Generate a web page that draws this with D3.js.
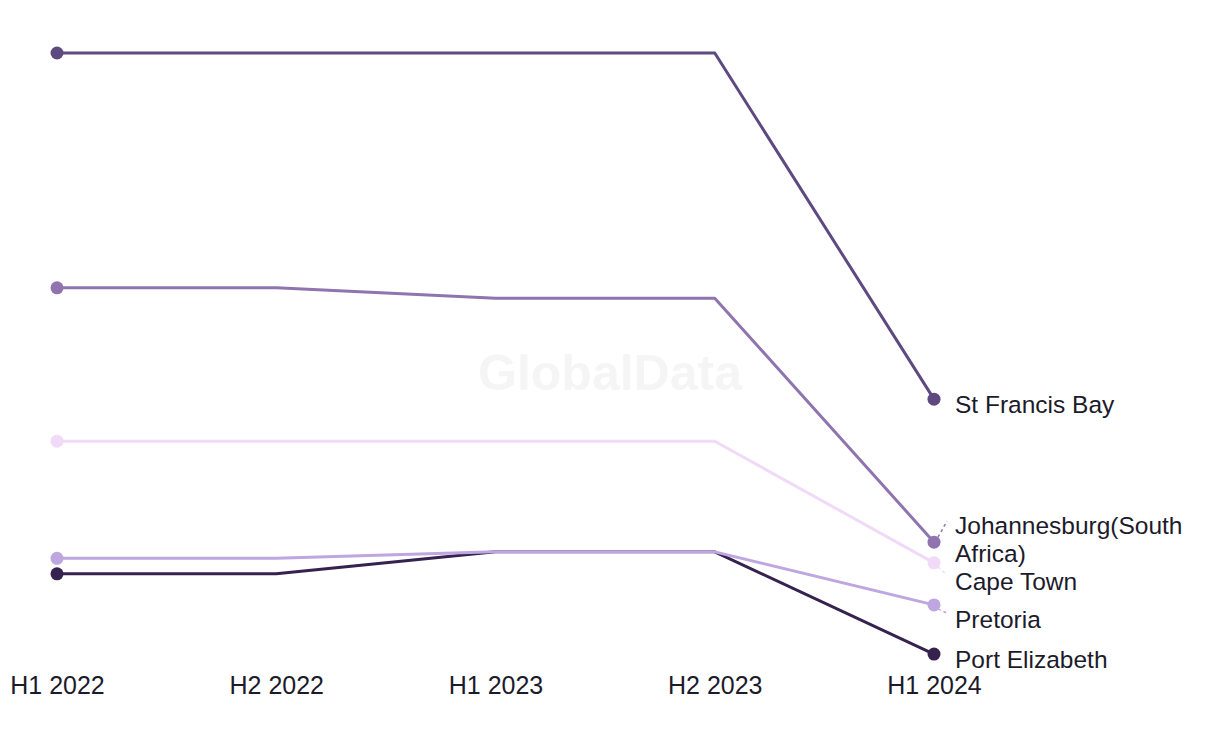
<!DOCTYPE html>
<html>
<head>
<meta charset="utf-8">
<script src="https://cdn.jsdelivr.net/npm/d3@7"></script>
<style>
  html, body { margin: 0; padding: 0; background: #ffffff; }
  svg { display: block; }
</style>
</head>
<body>
<svg id="chart" width="1220" height="744"></svg>
<script>
// ---- data ----
const periods = ["H1 2022", "H2 2022", "H1 2023", "H2 2023", "H1 2024"];
const seriesNames = ["St Francis Bay", "Johannesburg(South Africa)", "Cape Town", "Pretoria", "Port Elizabeth"];
const stFrancisBay   = [100, 100, 100, 100, 46.5];
const johannesburg   = [63.7, 63.7, 62.1, 62.1, 24.4];
const capeTown       = [40.0, 40.0, 40.0, 40.0, 21.2];
const pretoria       = [21.9, 21.9, 22.9, 22.9, 14.7];
const portElizabeth  = [19.5, 19.5, 22.9, 22.9, 7.1];
const seriesColors = ["#5e4a80", "#8f74b0", "#f0daf8", "#bea6e0", "#35224f"];

const seriesValues = [stFrancisBay, johannesburg, capeTown, pretoria, portElizabeth];
const series = seriesNames.map((name, i) => ({ name, values: seriesValues[i], color: seriesColors[i] }));

// ---- layout ----
const svg = d3.select("#chart");
const FONT = "'Liberation Sans', Arial, sans-serif";
const LABEL_SIZE = 24.5;

const x = d3.scalePoint().domain(periods).range([57, 934]);
const y = d3.scaleLinear().domain([0, 100]).range([700, 53]);

// watermark
svg.append("text")
  .attr("x", 610).attr("y", 390)
  .attr("text-anchor", "middle")
  .attr("font-family", FONT)
  .attr("font-weight", "bold")
  .attr("font-size", 50)
  .attr("fill", "#f5f5f5")
  .text("GlobalData");

// x axis (labels only)
const xAxis = d3.axisBottom(x).tickSize(0).tickPadding(0);
const gx = svg.append("g").attr("transform", "translate(0,676)").call(xAxis);
gx.select(".domain").remove();
gx.selectAll("text")
  .attr("font-family", "'Liberation Sans Narrow', 'Liberation Sans', Arial, sans-serif")
  .attr("font-size", 25)
  .attr("fill", "#1c1b2b")
  .attr("dy", "0.71em");

// lines (draw in reverse so top series overlay)
const line = d3.line().x((d, i) => x(periods[i])).y(d => y(d));
const gLines = svg.append("g");
[...series].reverse().forEach(s => {
  gLines.append("path")
    .datum(s.values)
    .attr("d", line)
    .attr("fill", "none")
    .attr("stroke", s.color)
    .attr("stroke-width", 3)
    .attr("stroke-linejoin", "round");
});

// dots at first and last points
const gDots = svg.append("g");
[...series].reverse().forEach(s => {
  [0, periods.length - 1].forEach(i => {
    gDots.append("circle")
      .attr("cx", x(periods[i]))
      .attr("cy", y(s.values[i]))
      .attr("r", 6.5)
      .attr("fill", s.color);
  });
});

// end labels with simple top-down collision avoidance
const labelX = 955, lineH = 28, gap = 10, maxW = 245, extraH = 8, offset = 5;
const measure = svg.append("text").attr("font-family", FONT).attr("font-size", LABEL_SIZE).attr("visibility", "hidden");
function textW(s) { measure.text(s); return measure.node().getComputedTextLength(); }
function wrap(text) {
  const tokens = text.split(" ");
  const lines = [];
  let cur = "";
  tokens.forEach(t => {
    const trial = cur ? cur + " " + t : t;
    if (textW(trial) > maxW && cur) { lines.push(cur); cur = t; }
    else cur = trial;
  });
  if (cur) lines.push(cur);
  const out = [];
  lines.forEach(l => {
    if (textW(l) > maxW) {
      let k = l.length;
      while (k > 1 && textW(l.slice(0, k)) > maxW) k--;
      out.push(l.slice(0, k)); out.push(l.slice(k));
    } else out.push(l);
  });
  return out;
}
const labels = series.map(s => {
  const ly = y(s.values[periods.length - 1]);
  const lines = wrap(s.name);
  const n = lines.length;
  return { s, dotY: ly, lines, h: lineH + (n - 1) * extraH, c: ly + offset - (n - 1) * extraH };
}).sort((a, b) => a.dotY - b.dotY);
measure.remove();

for (let i = 1; i < labels.length; i++) {
  const a = labels[i - 1], b = labels[i];
  const minC = a.c + a.h / 2 + gap + b.h / 2;
  if (b.c < minC) b.c = minC;
}

const gLab = svg.append("g");
labels.forEach(L => {
  const n = L.lines.length;
  const firstY = L.c - (n - 1) * lineH / 2;
  if (Math.abs(firstY - L.dotY) > 9) {
    const up = firstY < L.dotY;
    gLab.append("line")
      .attr("x1", x(periods[periods.length - 1]) + 4)
      .attr("y1", L.dotY + (up ? -5 : 4))
      .attr("x2", labelX - 8)
      .attr("y2", firstY + (up ? -4 : -6))
      .attr("stroke", L.s.color)
      .attr("stroke-width", 1.5)
      .attr("stroke-dasharray", "3,3");
  }
  const t = gLab.append("text")
    .attr("font-family", FONT)
    .attr("font-size", LABEL_SIZE)
    .attr("fill", "#1c1b2b");
  L.lines.forEach((ln, j) => {
    t.append("tspan")
      .attr("x", labelX)
      .attr("y", firstY + j * lineH)
      .attr("dy", "0.35em")
      .text(ln);
  });
});
</script>
</body>
</html>
